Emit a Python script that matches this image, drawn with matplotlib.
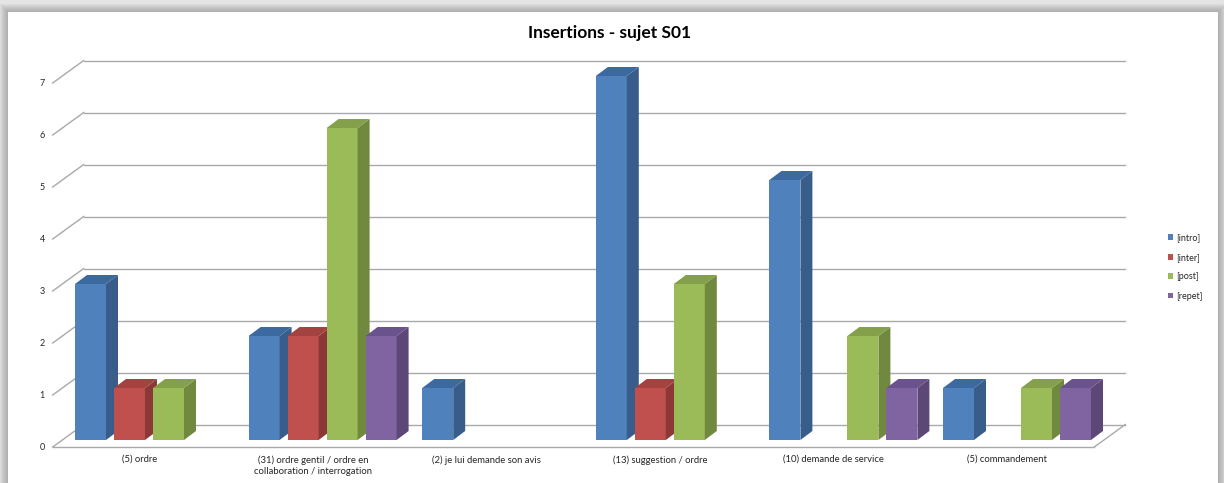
import matplotlib.pyplot as plt
from matplotlib.patches import Polygon, Rectangle, Patch

plt.rcParams['font.family'] = ['Lato', 'DejaVu Sans']

# data
categories = ['(5) ordre',
              '(31) ordre gentil / ordre en\ncollaboration / interrogation',
              '(2) je lui demande son avis',
              '(13) suggestion / ordre',
              '(10) demande de service',
              '(5) commandement']
series = ['[intro]', '[inter]', '[post]', '[repet]']
intro = [3, 2, 1, 7, 5, 1]
inter = [1, 2, 0, 1, 0, 0]
post = [1, 6, 0, 3, 2, 1]
repet = [0, 2, 0, 0, 1, 1]
yticks = [0, 1, 2, 3, 4, 5, 6, 7]

values = [intro, inter, post, repet]
front_col = ['#4f81bd', '#c0504d', '#9bbb59', '#8064a2']
side_col = ['#385d8a', '#8c3836', '#71893f', '#5c4776']
top_col = ['#3c69a0', '#a3423f', '#84a04a', '#6a528d']

W, H = 1224, 483
fig = plt.figure(figsize=(W / 100, H / 100), dpi=100)
fig.patch.set_facecolor('#e4e4e4')

# panel with a soft shadow
for k in range(8, 0, -1):
    fig.add_artist(Rectangle(((8 - k) / W, 0), (1210 + 2 * k) / W, (471 + k) / H,
                             transform=fig.transFigure, color='#808080', alpha=0.08, lw=0,
                             zorder=-10))
fig.add_artist(Rectangle((8 / W, 0), 1210 / W, 471 / H, transform=fig.transFigure,
                         color='white', lw=0, zorder=-5))

# axes = plane of the bar fronts
ax = fig.add_axes([62.2 / W, 43 / H, 1041.6 / W, 364 / H])
ax.set_zorder(2)
ax.set_xlim(-0.5, 5.5)
ax.set_ylim(0, 7)
ax.axis('off')

PX = 1 / 173.6   # one pixel in x data units
PY = 1 / 52.0    # one pixel in y data units
fx, fy = -9.5 * PX, -7 * PY      # front edge of the floor
bx, by = 21.5 * PX, 15.5 * PY    # back wall
ddx, ddy = 12 * PX, 9 * PY       # bar depth
grid = '#a9a9a9'
txt = '#262626'

x_left, x_right = -0.5, 5.5
for v in yticks:
    ax.plot([x_left + bx, x_right + bx], [v + by, v + by], color=grid, lw=1, zorder=1, clip_on=False)
    ax.plot([x_left + fx, x_left + bx], [v + fy, v + by], color=grid, lw=1, zorder=1, clip_on=False)
    ax.text(x_left + fx - 8 * PX, v + fy, str(v), ha='right', va='center',
            fontsize=6.5, color=txt)
# floor
ax.plot([x_left + fx, x_right + fx], [fy, fy], color=grid, lw=1, zorder=1, clip_on=False)
ax.plot([x_right + fx, x_right + bx], [fy, by], color=grid, lw=1, zorder=1, clip_on=False)

pitch = 39 * PX
width = 31 * PX
z = 2
for i in range(len(categories)):
    for j in range(len(series)):
        v = values[j][i]
        if v == 0:
            continue
        x0 = i + (j - 1.5) * pitch - width / 2
        ax.bar(x0, v, width=width, align='edge', color=front_col[j], lw=0, zorder=z, clip_on=False)
        ax.add_patch(Polygon([(x0 + width, 0), (x0 + width, v), (x0 + width + ddx, v + ddy),
                              (x0 + width + ddx, ddy)], closed=True, color=side_col[j], lw=0,
                             zorder=z, clip_on=False))
        ax.add_patch(Polygon([(x0, v), (x0 + width, v), (x0 + width + ddx, v + ddy),
                              (x0 + ddx, v + ddy)], closed=True, color=top_col[j], lw=0,
                             zorder=z, clip_on=False))
        z += 1

for i, lab in enumerate(categories):
    ax.text(i + fx, fy - 8 * PY, lab, ha='center', va='top', fontsize=6.8, color=txt,
            linespacing=1.3)

fig.text(610 / W, 1 - 33 / H, 'Insertions - sujet S01', ha='center', va='center',
         fontsize=12.5, fontweight='bold', color='black')

handles = [Patch(facecolor=c, edgecolor='none') for c in front_col]
fig.legend(handles, series, loc='upper left', bbox_to_anchor=(1163 / W, 1 - 229 / H),
           frameon=False, fontsize=6.5, handlelength=0.6, handleheight=0.6,
           handletextpad=0.4, labelspacing=1.15, borderpad=0, labelcolor=txt)

plt.savefig('out.png', dpi=100, facecolor=fig.get_facecolor())
